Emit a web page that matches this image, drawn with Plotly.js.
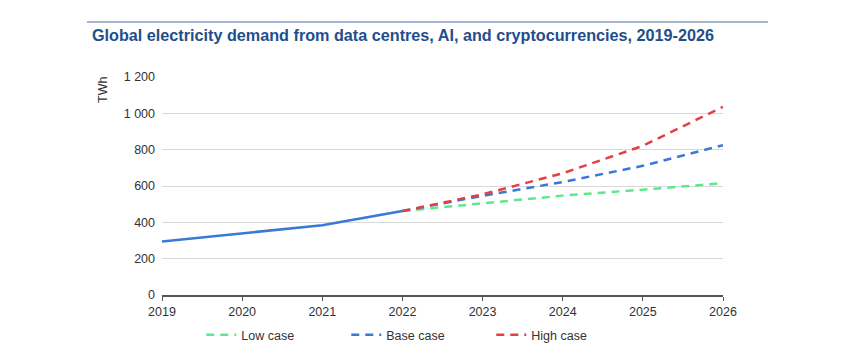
<!DOCTYPE html>
<html><head><meta charset="utf-8">
<script src="https://cdn.plot.ly/plotly-3.0.1.min.js"></script>
<style>html,body{margin:0;padding:0;background:#fff;}#chart{width:848px;height:354px;}</style>
</head><body><div id="chart"></div>
<script>
const histYears = [2019, 2020, 2021, 2022];
const histValues = [295, 340, 384, 462];
const projYears = [2022, 2023, 2024, 2025, 2026];
const lowCase = [462, 505, 547, 580, 615];
const baseCase = [462, 546, 622, 711, 825];
const highCase = [462, 554, 670, 821, 1036];
const yTicks = [0, 200, 400, 600, 800, 1000, 1200];
const yTickLabels = ["0", "200", "400", "600", "800", "1 000", "1 200"];
const xTicks = [2019, 2020, 2021, 2022, 2023, 2024, 2025, 2026];

const dash = "8px,6px";
const traces = [
  {x: projYears, y: lowCase, name: "Low case", mode: "lines", line: {color: "#5ee88c", width: 2.5, dash: dash}},
  {x: projYears, y: baseCase, name: "Base case", mode: "lines", line: {color: "#3a78d8", width: 2.5, dash: dash}},
  {x: projYears, y: highCase, name: "High case", mode: "lines", line: {color: "#e5403f", width: 2.5, dash: dash}},
  {x: histYears, y: histValues, name: "Historical", mode: "lines", showlegend: false, line: {color: "#3a78d8", width: 2.5}}
];

const layout = {
  width: 848, height: 354,
  margin: {l: 162, r: 125, t: 77, b: 59, autoexpand: false},
  paper_bgcolor: "#fff", plot_bgcolor: "#fff",
  font: {family: "Liberation Sans, Arial, sans-serif", size: 12.5, color: "#333"},
  showlegend: true,
  title: {text: "<b>Global electricity demand from data centres, AI, and cryptocurrencies, 2019-2026</b>",
          x: 92/848, xanchor: "left", y: 1 - 35/354, yanchor: "middle",
          font: {family: "Liberation Sans, Arial, sans-serif", size: 16.2, color: "#1f4e8c"}},
  xaxis: {range: [2019, 2026], tickvals: xTicks, ticktext: xTicks.map(String),
          showgrid: false, zeroline: false, showline: true, linecolor: "#555", linewidth: 1.5,
          ticks: "outside", ticklen: 4, tickcolor: "#555", tickfont: {size: 12.5, color: "#333"}, fixedrange: true},
  yaxis: {range: [0, 1200], tickvals: yTicks, ticktext: yTickLabels,
          showgrid: true, gridcolor: "#d9d9d9", gridwidth: 1, zeroline: false, showline: false,
          ticks: "", tickfont: {size: 12.5, color: "#333"}, ticklabelstandoff: 6},
  legend: {orientation: "h", x: 0.07, xanchor: "left", y: -0.115, yanchor: "top",
           font: {size: 12.5, color: "#333"}, entrywidth: 100, itemwidth: 30, bgcolor: "rgba(0,0,0,0)"},
  annotations: [
    {text: "TWh", xref: "paper", yref: "paper", x: (103-162)/561, y: 1 - (90-77)/218,
     xanchor: "center", yanchor: "middle", textangle: -90, showarrow: false,
     font: {size: 12.5, color: "#333"}}
  ],
  shapes: [
    {type: "line", xref: "paper", yref: "paper", x0: (87-162)/561, x1: (768-162)/561,
     y0: 1 + (77-22)/218, y1: 1 + (77-22)/218, line: {color: "#4a6fa5", width: 1.2}}
  ]
};
Plotly.newPlot("chart", traces, layout, {displayModeBar: false, staticPlot: true});
</script></body></html>
